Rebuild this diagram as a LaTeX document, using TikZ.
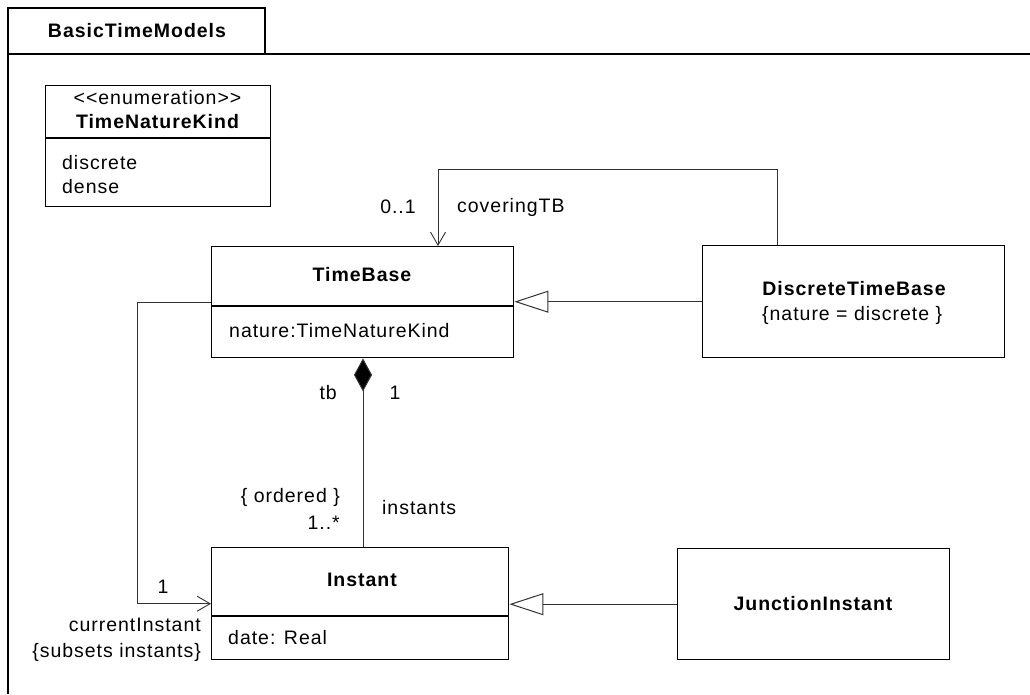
\documentclass[tikz,border=0pt]{standalone}
\usepackage{fontspec}
\setmainfont{Liberation Sans}[LetterSpace=5]
\usetikzlibrary{arrows.meta}
\tikzset{
  box/.style={draw=black, line width=1.4pt, rectangle, inner sep=0pt, anchor=north west},
  sep/.style={draw=black, line width=1.2pt},
  conn/.style={draw=black!80, line width=1pt},
  gentip/.style={conn, -{Triangle[open, length=34pt, width=22pt, fill=white]}},
  navtip/.style={conn, -{Straight Barb[length=13pt, width=15pt, line width=0.9pt]}},
  comptip/.style={conn, {Diamond[length=33pt, width=18pt, fill=black]}-},
  lbl/.style={inner sep=0pt, font=\fontsize{19.5}{22}\selectfont},
  bold/.style={lbl, font=\fontsize{19.5}{22}\selectfont\bfseries},
  frame/.style={draw=black, line width=1.4pt}
}
\begin{document}
\begin{tikzpicture}[x=1pt, y=-1pt]
\useasboundingbox[fill=white] (0,0) rectangle (1030,694);
% package frame
\draw[frame] (8,694) -- (8,8) -- (265,8) -- (265,54);
\draw[frame] (8,54) -- (1030,54);
\node[bold] (pkg) at (137,31) {BasicTimeModels};

% enumeration
\node[box, minimum width=225pt, minimum height=121pt] (enum) at (45,85) {};
\draw[sep] (45,138) -- (270,138);
\node[lbl] (st) at (157.5,98) {<{}<enumeration>{}>};
\node[bold] (enn) at (157.5,122) {TimeNatureKind};
\node[lbl, anchor=west] (l1) at (62,163) {discrete};
\node[lbl, anchor=west] (l2) at (62,187) {dense};

% TimeBase
\node[box, minimum width=302pt, minimum height=111pt] (tb) at (211,246) {};
\draw[sep] (211,306) -- (513,306);
\node[bold] (tbn) at (362,275) {TimeBase};
\node[lbl, anchor=west] (tba) at (229,331) {nature:TimeNatureKind};

% DiscreteTimeBase
\node[box, minimum width=302pt, minimum height=112pt] (dtb) at (702,245) {};
\node[bold] (dtbn) at (854,289) {DiscreteTimeBase};
\node[lbl, anchor=west] (dtbc) at (762,315) {\{nature = discrete \}};

% Instant
\node[box, minimum width=297pt, minimum height=112pt] (inst) at (211,547) {};
\draw[sep] (211,616) -- (508,616);
\node[bold] (instn) at (362,580) {Instant};
\node[lbl, anchor=west] (insta) at (228,638) {date: Real};

% JunctionInstant
\node[box, minimum width=272pt, minimum height=111pt] (ji) at (677,548) {};
\node[bold] (jin) at (813,604) {JunctionInstant};

% connectors
\coordinate (cA) at (777,169);
\coordinate (cB) at (438,169);
\draw[navtip] (cA |- dtb.north) -- (cA) -- (cB) -- (cB |- tb.north);
\draw[gentip] (dtb.west) -- (dtb.west -| tb.east);
\draw[gentip] (ji.west) -- (ji.west -| inst.east);
\coordinate (cX) at (363,0);
\draw[comptip] (cX |- tb.south) -- (cX |- inst.north);
\coordinate (cL) at (137,302);
\draw[navtip] (cL -| tb.west) -- (cL) |- (inst.west);

% labels
\node[lbl] (m01) at (398,207) {0..1};
\node[lbl, anchor=west] (rcov) at (457,207) {coveringTB};
\node[lbl, anchor=east] (rtb) at (337,393) {tb};
\node[lbl] (m1a) at (395,393) {1};
\node[lbl, anchor=east] (cord) at (340,497) {\{ ordered \}};
\node[lbl, anchor=east] (mmany) at (340,523) {1..*};
\node[lbl, anchor=west] (rinst) at (382,508) {instants};
\node[lbl] (m1b) at (163,587) {1};
\node[lbl, anchor=east] (rcur) at (201,625) {currentInstant};
\node[lbl, anchor=east] (csub) at (201,652) {\{subsets instants\}};
\end{tikzpicture}
\end{document}
